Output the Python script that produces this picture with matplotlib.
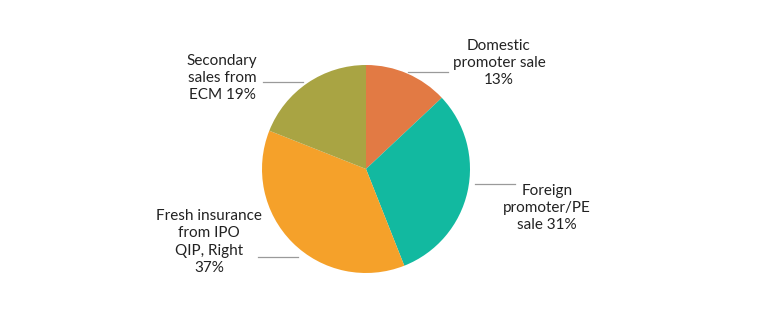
import matplotlib.pyplot as plt

# slice data, clockwise from 12 o'clock
labels = ["Domestic\npromoter sale\n13%", "Foreign\npromoter/PE\nsale 31%",
          "Fresh insurance\nfrom IPO\nQIP, Right\n37%", "Secondary\nsales from\nECM 19%"]
shares = [13, 31, 37, 19]
colors = ["#E27A44", "#12B9A0", "#F5A12A", "#A9A443"]

W, H = 762, 317
fig = plt.figure(figsize=(W / 100, H / 100), dpi=100)
ax = fig.add_axes([0, 0, 1, 1])

ax.pie(shares, colors=colors, startangle=90, counterclock=False,
       center=(366, H - 169), radius=104, frame=True,
       wedgeprops=dict(linewidth=0))
ax.set_xlim(0, W)
ax.set_ylim(0, H)
ax.set_aspect("equal")
ax.axis("off")

# label text position (pixel, from top) and leader line segment
text_pos = [(499, 63), (547, 208), (209, 242), (222, 78)]
leaders = [((408, 448), 72), ((475, 515), 184), ((258, 298), 257), ((263, 303), 82)]

for lab, (tx, ty), ((x0, x1), ly) in zip(labels, text_pos, leaders):
    ax.text(tx, H - ty, lab, ha="center", va="center", fontsize=11,
            family="Lato", color="#222222", linespacing=1.3)
    ax.plot([x0, x1], [H - ly, H - ly], color="#9a9a9a", lw=0.9)

fig.savefig("out.png", dpi=100)
